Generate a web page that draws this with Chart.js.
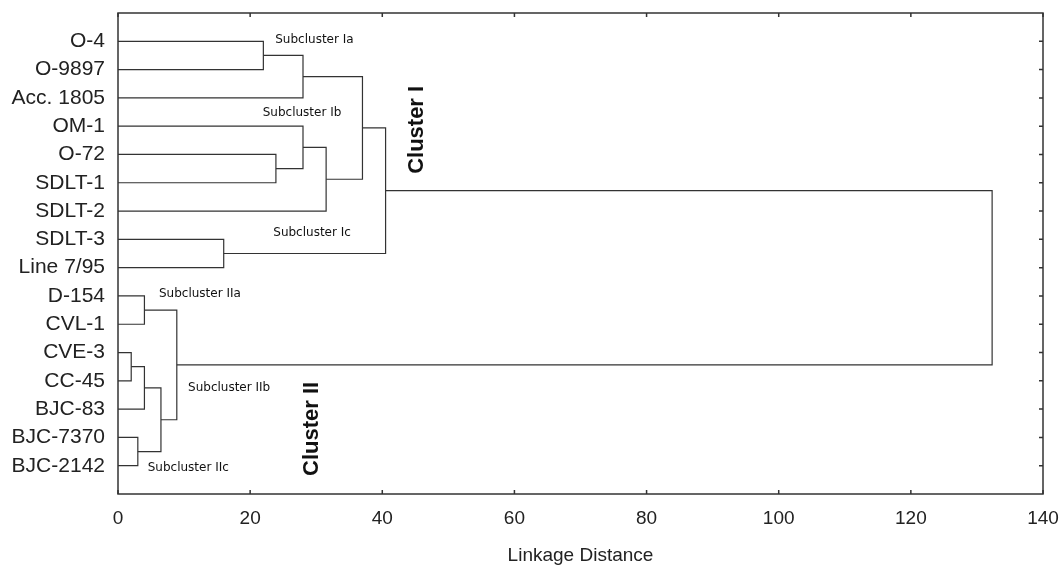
<!DOCTYPE html>
<html>
<head>
<meta charset="utf-8">
<script src="https://cdn.jsdelivr.net/npm/chart.js@4.4.1/dist/chart.umd.min.js"></script>
<style>
  body { margin: 0; background: #fff; }
  #wrap { width: 1060px; height: 567px; position: relative; }
</style>
</head>
<body>
<div id="wrap"><canvas id="myChart"></canvas></div>
<script>
// leaves, top to bottom
const leafLabels = ['O-4', 'O-9897', 'Acc. 1805', 'OM-1', 'O-72', 'SDLT-1', 'SDLT-2', 'SDLT-3',
  'Line 7/95', 'D-154', 'CVL-1', 'CVE-3', 'CC-45', 'BJC-83', 'BJC-7370', 'BJC-2142'];

// merges: node ids 0..15 are leaves, each merge k makes node 16 + k
const mergeLeft   = [0, 16, 4, 3, 19, 17, 7, 21, 9, 11, 25, 14, 26, 24, 23];
const mergeRight  = [1, 2, 5, 18, 6, 20, 8, 22, 10, 12, 13, 15, 27, 28, 29];
const mergeHeight = [22.0, 28.0, 23.9, 28.0, 31.5, 37.0, 16.0, 40.5, 4.0, 2.0, 4.0, 3.0, 6.5, 8.9, 132.3];

// text labels put on the plot (x = linkage distance, y = leaf row)
const noteText = ['Subcluster Ia', 'Subcluster Ib', 'Subcluster Ic', 'Subcluster IIa', 'Subcluster IIb', 'Subcluster IIc'];
const noteX = [23.8, 21.9, 23.5, 6.2, 10.6, 4.5];
const noteY = [0.95, 3.53, 7.77, 9.93, 13.25, 16.08];
const clusterText = ['Cluster I', 'Cluster II'];
const clusterX = [45.3, 29.4];
const clusterY = [4.13, 14.7];

// node positions
const nodeY = leafLabels.map((_, i) => i + 1);
const nodeH = leafLabels.map(() => 0);
mergeLeft.forEach((a, k) => {
  const b = mergeRight[k];
  nodeY.push((nodeY[a] + nodeY[b]) / 2);
  nodeH.push(mergeHeight[k]);
});

const datasets = mergeLeft.map((a, k) => {
  const b = mergeRight[k];
  const h = mergeHeight[k];
  return {
    data: [
      {x: nodeH[a], y: nodeY[a]},
      {x: h, y: nodeY[a]},
      {x: h, y: nodeY[b]},
      {x: nodeH[b], y: nodeY[b]}
    ],
    showLine: true,
    borderColor: '#333',
    borderWidth: 1.2,
    pointRadius: 0,
    tension: 0,
    fill: false
  };
});

const framePlugin = {
  id: 'frame',
  afterDraw(chart) {
    const {ctx, chartArea: a, scales: {x, y}} = chart;
    ctx.save();
    ctx.strokeStyle = '#333';
    ctx.lineWidth = 1.5;
    ctx.strokeRect(a.left, a.top, a.right - a.left, a.bottom - a.top);
    ctx.beginPath();
    x.ticks.forEach(t => {
      const px = x.getPixelForValue(t.value);
      ctx.moveTo(px, a.top); ctx.lineTo(px, a.top + 4);
      ctx.moveTo(px, a.bottom); ctx.lineTo(px, a.bottom - 4);
    });
    y.ticks.forEach(t => {
      const py = y.getPixelForValue(t.value);
      ctx.moveTo(a.right, py); ctx.lineTo(a.right - 4, py);
    });
    ctx.stroke();

    ctx.fillStyle = '#111';
    ctx.font = '12px "DejaVu Sans"';
    ctx.textAlign = 'left';
    ctx.textBaseline = 'middle';
    noteText.forEach((t, i) => {
      ctx.fillText(t, x.getPixelForValue(noteX[i]), y.getPixelForValue(noteY[i]));
    });
    ctx.font = 'bold 22px "Liberation Sans"';
    ctx.textAlign = 'center';
    clusterText.forEach((t, i) => {
      ctx.save();
      ctx.translate(x.getPixelForValue(clusterX[i]), y.getPixelForValue(clusterY[i]));
      ctx.rotate(-Math.PI / 2);
      ctx.fillText(t, 0, 0);
      ctx.restore();
    });
    ctx.restore();
  }
};

new Chart(document.getElementById('myChart'), {
  type: 'scatter',
  data: { datasets: datasets },
  options: {
    responsive: true,
    maintainAspectRatio: false,
    animation: false,
    layout: { padding: { left: 0, right: 17, top: 13, bottom: 0 } },
    plugins: { legend: { display: false }, tooltip: { enabled: false } },
    scales: {
      x: {
        type: 'linear',
        min: 0, max: 140,
        grid: { display: false },
        border: { display: false },
        ticks: { stepSize: 20, padding: 5, color: '#222', font: { family: 'Liberation Sans', size: 19 } },
        title: {
          display: true, text: 'Linkage Distance', color: '#222',
          font: { family: 'Liberation Sans', size: 19 }, padding: { top: 0, bottom: 0 }
        },
        afterFit(scale) {
          scale.height = 73;
          scale.paddingLeft = 0;
          scale.paddingRight = 0;
        }
      },
      y: {
        type: 'linear',
        reverse: true,
        min: 0, max: leafLabels.length + 1,
        grid: { display: false },
        border: { display: false },
        afterBuildTicks(scale) { scale.ticks = leafLabels.map((_, i) => ({ value: i + 1 })); },
        ticks: {
          padding: 5, color: '#222', font: { family: 'Liberation Sans', size: 21 },
          callback: (v) => leafLabels[v - 1]
        },
        afterFit(scale) {
          scale.width = 118;
          scale.paddingTop = 0;
          scale.paddingBottom = 0;
        }
      }
    }
  },
  plugins: [framePlugin]
});
</script>
</body>
</html>
